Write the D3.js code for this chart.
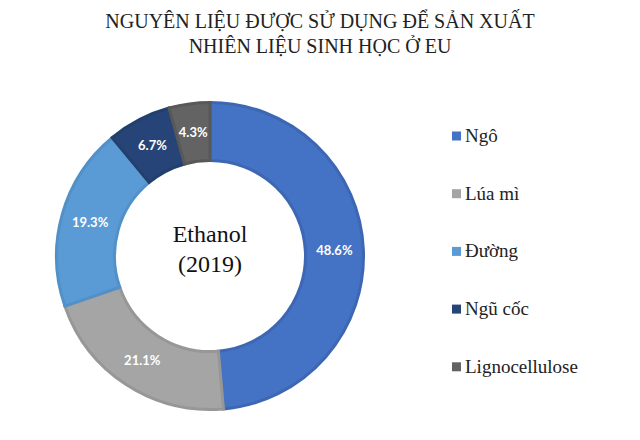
<!DOCTYPE html>
<html>
<head>
    <meta charset="utf-8">
    <script src="https://cdnjs.cloudflare.com/ajax/libs/d3/7.8.5/d3.min.js"></script>
    <style>
        body { margin: 0; background: #fff; }
    </style>
</head>
<body>
    <div id="chart"></div>
    <script>
        const categories = ["Ngô", "Lúa mì", "Đường", "Ngũ cốc", "Lignocellulose"];
        const shares = [48.6, 21.1, 19.3, 6.7, 4.3];
        const colors = ["#4472C4", "#A5A5A5", "#5B9BD5", "#264478", "#636363"];
        const borders = ["#3D67B3", "#979797", "#5290C8", "#22406E", "#585858"];
        const titleLines = ["NGUYÊN LIỆU ĐƯỢC SỬ DỤNG ĐỂ SẢN XUẤT", "NHIÊN LIỆU SINH HỌC Ở EU"];
        const centerLines = ["Ethanol", "(2019)"];

        const serifFont = "Liberation Serif";
        const sansFont = "Lato";

        const width = 640;
        const height = 440;
        const cx = 210, cy = 256;
        const outerR = 155, innerR = 94;

        const svg = d3.select("#chart")
            .append("svg")
            .attr("width", width)
            .attr("height", height);

        // Title
        svg.selectAll(".title")
            .data(titleLines)
            .enter()
            .append("text")
            .attr("class", "title")
            .attr("x", 320)
            .attr("y", (d, i) => 28 + i * 25)
            .attr("text-anchor", "middle")
            .attr("font-family", serifFont)
            .attr("font-size", 20)
            .attr("fill", "#222")
            .text(d => d);

        const data = categories.map((c, i) => ({name: c, value: shares[i], i}));

        const pie = d3.pie()
            .value(d => d.value)
            .sort(null);

        const arc = d3.arc()
            .innerRadius(innerR + 1.5)
            .outerRadius(outerR - 1.5);

        const labelArc = d3.arc()
            .innerRadius((innerR + outerR) / 2)
            .outerRadius((innerR + outerR) / 2);

        const g = svg.append("g")
            .attr("transform", `translate(${cx},${cy})`);

        const arcs = pie(data);

        g.selectAll("path")
            .data(arcs)
            .enter()
            .append("path")
            .attr("d", arc)
            .attr("fill", d => colors[d.data.i])
            .attr("stroke", d => borders[d.data.i])
            .attr("stroke-width", 3);

        g.selectAll(".slice-label")
            .data(arcs)
            .enter()
            .append("text")
            .attr("class", "slice-label")
            .attr("transform", d => `translate(${labelArc.centroid(d)})`)
            .attr("text-anchor", "middle")
            .attr("dy", "0.35em")
            .attr("font-family", sansFont)
            .attr("font-size", 13)
            .attr("font-weight", "bold")
            .attr("fill", "#fff")
            .text(d => d.data.value.toFixed(1) + "%");

        // Center text
        g.selectAll(".center-text")
            .data(centerLines)
            .enter()
            .append("text")
            .attr("class", "center-text")
            .attr("text-anchor", "middle")
            .attr("y", (d, i) => -14 + i * 30)
            .attr("font-family", serifFont)
            .attr("font-size", 24)
            .attr("fill", "#111")
            .text(d => d);

        // Legend
        const legend = svg.append("g")
            .attr("transform", "translate(452,136)");

        const rows = legend.selectAll("g")
            .data(data)
            .enter()
            .append("g")
            .attr("transform", (d, i) => `translate(0,${i * 57.7})`);

        rows.append("rect")
            .attr("x", 0)
            .attr("y", -4.5)
            .attr("width", 9)
            .attr("height", 9)
            .attr("fill", d => colors[d.i]);

        rows.append("text")
            .attr("x", 13)
            .attr("y", 6)
            .attr("font-family", serifFont)
            .attr("font-size", 19)
            .attr("fill", "#222")
            .text(d => d.name);
    </script>
</body>
</html>
